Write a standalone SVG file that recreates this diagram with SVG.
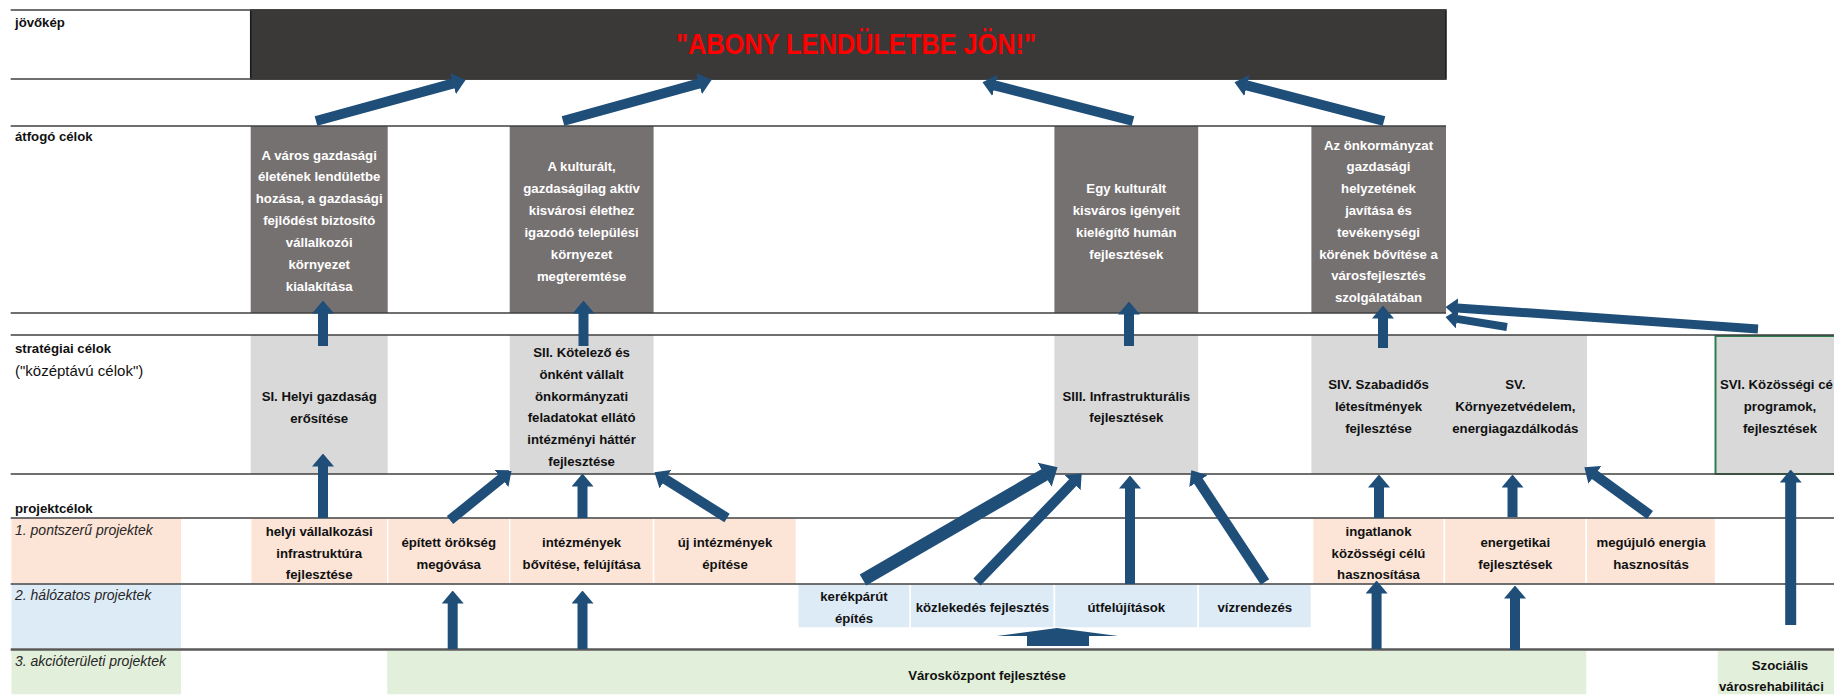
<svg xmlns="http://www.w3.org/2000/svg" width="1834" height="695" viewBox="0 0 1834 695">
<style>
text{font-family:"Liberation Sans",Arial,sans-serif;font-size:13.2px;font-weight:bold;fill:#111;text-anchor:middle}
.lbl{text-anchor:start;fill:#111}
.it{font-style:italic;font-weight:normal;font-size:14px;fill:#262626}
.wt{fill:#fff}
.rule{stroke:#404040;stroke-width:1.5;fill:none}
.dark{fill:#3b3838;stroke:#1a1a1a;stroke-width:1.5}
.goal{fill:#767171}
.strat{fill:#d9d9d9}
.pink{fill:#fce4d6;stroke:#fff;stroke-width:1.5}
.blue{fill:#ddebf7;stroke:#fff;stroke-width:1.5}
.green{fill:#e2efda;stroke:#fff;stroke-width:1.5}
.ar{stroke:#1f4e79;stroke-width:10;fill:none;marker-end:url(#ah)}
</style>
<defs>
<marker id="ah" viewBox="0 0 13 22" markerWidth="13" markerHeight="22" refX="0.5" refY="11" orient="auto" markerUnits="userSpaceOnUse"><path d="M0,0 L13,11 L0,22 Z" fill="#1f4e79"/></marker>
<marker id="ahL" viewBox="0 0 15 28" markerWidth="15" markerHeight="28" refX="0.5" refY="14" orient="auto" markerUnits="userSpaceOnUse"><path d="M0,0 L15,14 L0,28 Z" fill="#1f4e79"/></marker>
<marker id="ahS" viewBox="0 0 12 19" markerWidth="12" markerHeight="19" refX="0.5" refY="9.5" orient="auto" markerUnits="userSpaceOnUse"><path d="M0,0 L12,9.5 L0,19 Z" fill="#1f4e79"/></marker>
</defs>
<rect width="1834" height="695" fill="#fff"/>

<g id="rows">
<rect class="pink" x="10.7" y="518" width="171" height="66"/>
<rect class="blue" x="10.7" y="584" width="171" height="65"/>
<rect class="green" x="10.7" y="649" width="171" height="46"/>
<text class="lbl" x="15" y="27">jövőkép</text>
<text class="lbl" x="15" y="141">átfogó célok</text>
<text class="lbl" x="15" y="353">stratégiai célok</text>
<text class="lbl" x="15" y="375.5" style="font-weight:normal;font-size:15px">("középtávú célok")</text>
<text class="lbl" x="15" y="513">projektcélok</text>
<text class="lbl it" x="15" y="534.5">1. pontszerű projektek</text>
<text class="lbl it" x="15" y="600">2. hálózatos projektek</text>
<text class="lbl it" x="15" y="665.5">3. akcióterületi projektek</text>
</g>

<g id="vision">
<rect class="dark" x="250.7" y="10" width="1195.3" height="69"/>
<text x="856" y="53.5" textLength="360" lengthAdjust="spacingAndGlyphs" style="font-size:29px;fill:#ff0000">"ABONY LENDÜLETBE JÖN!"</text>
</g>

<g id="goal1">
<rect class="goal" x="250.7" y="126" width="137" height="187"/>
<text class="wt" x="319.2" y="159.5">A város gazdasági<tspan x="319.2" dy="21.9">életének lendületbe</tspan><tspan x="319.2" dy="21.9">hozása, a gazdasági</tspan><tspan x="319.2" dy="21.9">fejlődést biztosító</tspan><tspan x="319.2" dy="21.9">vállalkozói</tspan><tspan x="319.2" dy="21.9">környezet</tspan><tspan x="319.2" dy="21.9">kialakítása</tspan></text>
</g>
<g id="goal2">
<rect class="goal" x="509.7" y="126" width="143.9" height="187"/>
<text class="wt" x="581.6" y="171">A kulturált,<tspan x="581.6" dy="21.9">gazdaságilag aktív</tspan><tspan x="581.6" dy="21.9">kisvárosi élethez</tspan><tspan x="581.6" dy="21.9">igazodó települési</tspan><tspan x="581.6" dy="21.9">környezet</tspan><tspan x="581.6" dy="21.9">megteremtése</tspan></text>
</g>
<g id="goal3">
<rect class="goal" x="1054.4" y="126" width="143.8" height="187"/>
<text class="wt" x="1126.3" y="192.8">Egy kulturált<tspan x="1126.3" dy="21.9">kisváros igényeit</tspan><tspan x="1126.3" dy="21.9">kielégítő  humán</tspan><tspan x="1126.3" dy="21.9">fejlesztések</tspan></text>
</g>
<g id="goal4">
<rect class="goal" x="1311.4" y="126" width="134.6" height="187"/>
<text class="wt" x="1378.5" y="149.5">Az önkormányzat<tspan x="1378.5" dy="21.8">gazdasági</tspan><tspan x="1378.5" dy="21.8">helyzetének</tspan><tspan x="1378.5" dy="21.8">javítása és</tspan><tspan x="1378.5" dy="21.8">tevékenységi</tspan><tspan x="1378.5" dy="21.8">körének bővítése a</tspan><tspan x="1378.5" dy="21.8">városfejlesztés</tspan><tspan x="1378.5" dy="21.8">szolgálatában</tspan></text>
</g>

<g id="s1">
<rect class="strat" x="250.7" y="335" width="137" height="139"/>
<text x="319.2" y="401">SI. Helyi gazdaság<tspan x="319.2" dy="21.7">erősítése</tspan></text>
</g>
<g id="s2">
<rect class="strat" x="509.7" y="335" width="143.9" height="139"/>
<text x="581.6" y="357">SII. Kötelező és<tspan x="581.6" dy="21.8">önként vállalt</tspan><tspan x="581.6" dy="21.8">önkormányzati</tspan><tspan x="581.6" dy="21.8">feladatokat ellátó</tspan><tspan x="581.6" dy="21.8">intézményi háttér</tspan><tspan x="581.6" dy="21.8">fejlesztése</tspan></text>
</g>
<g id="s3">
<rect class="strat" x="1054.4" y="335" width="143.8" height="139"/>
<text x="1126.3" y="400.5">SIII. Infrastrukturális<tspan x="1126.3" dy="21.7">fejlesztések</tspan></text>
</g>
<g id="s4s5">
<rect class="strat" x="1311.4" y="335" width="275.6" height="139"/>
<text x="1378.5" y="389">SIV. Szabadidős<tspan x="1378.5" dy="21.8">létesítmények</tspan><tspan x="1378.5" dy="21.8">fejlesztése</tspan></text>
<text x="1515.3" y="389">SV.<tspan x="1515.3" dy="21.8">Környezetvédelem,</tspan><tspan x="1515.3" dy="21.8">energiagazdálkodás</tspan></text>
</g>
<g id="s6">
<rect class="strat" x="1715.5" y="336" width="130" height="138" style="stroke:#2e7d4f;stroke-width:2"/>
<text x="1720" y="389" style="text-anchor:start">SVI. Közösségi cé</text>
<text x="1780" y="410.8">programok,<tspan x="1780" dy="21.8">fejlesztések</tspan></text>
</g>

<g id="p-helyi"><rect class="pink" x="250.7" y="518" width="137" height="66"/>
<text x="319.2" y="536">helyi vállalkozási<tspan x="319.2" dy="21.7">infrastruktúra</tspan><tspan x="319.2" dy="21.7">fejlesztése</tspan></text></g>
<g id="p-epitett"><rect class="pink" x="387.7" y="518" width="122" height="66"/>
<text x="448.7" y="547">épített örökség<tspan x="448.7" dy="21.7">megóvása</tspan></text></g>
<g id="p-intezmenyek"><rect class="pink" x="509.7" y="518" width="143.9" height="66"/>
<text x="581.6" y="547">intézmények<tspan x="581.6" dy="21.7">bővítése, felújítása</tspan></text></g>
<g id="p-uj"><rect class="pink" x="653.6" y="518" width="142.8" height="66"/>
<text x="725" y="547">új intézmények<tspan x="725" dy="21.7">építése</tspan></text></g>
<g id="p-ingatlanok"><rect class="pink" x="1312.6" y="518" width="131.8" height="66"/>
<text x="1378.5" y="536">ingatlanok<tspan x="1378.5" dy="21.7">közösségi célú</tspan><tspan x="1378.5" dy="21.7">hasznosítása</tspan></text></g>
<g id="p-energetikai"><rect class="pink" x="1444.4" y="518" width="141.9" height="66"/>
<text x="1515.3" y="547">energetikai<tspan x="1515.3" dy="21.7">fejlesztések</tspan></text></g>
<g id="p-megujulo"><rect class="pink" x="1586.3" y="518" width="129.2" height="66"/>
<text x="1651" y="547">megújuló energia<tspan x="1651" dy="21.7">hasznosítás</tspan></text></g>

<g id="n-kerekpar"><rect class="blue" x="797.8" y="584" width="112.5" height="44"/>
<text x="854" y="601">kerékpárút<tspan x="854" dy="21.6">építés</tspan></text></g>
<g id="n-kozlekedes"><rect class="blue" x="910.3" y="584" width="144.1" height="44"/>
<text x="982.4" y="612">közlekedés fejlesztés</text></g>
<g id="n-ut"><rect class="blue" x="1054.4" y="584" width="143.8" height="44"/>
<text x="1126.3" y="612">útfelújítások</text></g>
<g id="n-viz"><rect class="blue" x="1198.2" y="584" width="113.2" height="44"/>
<text x="1254.8" y="612">vízrendezés</text></g>

<g id="a-varoskozpont"><rect class="green" x="386.5" y="650" width="1200.5" height="45"/>
<text x="987" y="680">Városközpont fejlesztése</text></g>
<g id="a-szocialis"><rect class="green" x="1717" y="650" width="130" height="45"/>
<text x="1780" y="669.5">Szociális</text>
<text x="1719" y="691" style="text-anchor:start">városrehabilitáci</text></g>

<g id="rules">
<path class="rule" d="M10.7,10H1446M10.7,79H1446M10.7,126H1446M10.7,313H1446M10.7,335H1834M10.7,474H1834M10.7,518H1834M10.7,584H1834"/>
<path d="M10.7,649.5H1834" stroke="#595959" stroke-width="2.5"/>
</g>

<g id="connectors">
<line class="ar" x1="316" y1="121" x2="453.5" y2="83.4"/>
<line class="ar" x1="563" y1="121" x2="699.5" y2="83.4"/>
<line class="ar" x1="1133" y1="121" x2="994.6" y2="85.3"/>
<line class="ar" x1="1384" y1="121" x2="1246.6" y2="85.3"/>
<line class="ar" x1="323" y1="346" x2="323" y2="313"/>
<line class="ar" x1="583.5" y1="346" x2="583.5" y2="313"/>
<line class="ar" x1="1129" y1="346" x2="1129" y2="314"/>
<line class="ar" x1="1383" y1="348" x2="1383" y2="318"/>
<line class="ar" x1="1758" y1="329" x2="1457" y2="307.9" style="stroke-width:9;marker-end:url(#ahS)"/>
<line class="ar" x1="1507" y1="327" x2="1456.8" y2="318.9" style="stroke-width:8;marker-end:url(#ahS)"/>
<line class="ar" x1="323" y1="518" x2="323" y2="466"/>
<line class="ar" x1="450" y1="520" x2="501.9" y2="478.2"/>
<line class="ar" x1="582.5" y1="518" x2="582.5" y2="486"/>
<line class="ar" x1="727" y1="518" x2="665" y2="478.9"/>
<line class="ar" x1="863" y1="580" x2="1045" y2="474.5" style="stroke-width:13;marker-end:url(#ahL)"/>
<line class="ar" x1="977" y1="582" x2="1073" y2="482.4"/>
<line class="ar" x1="1130" y1="584" x2="1130" y2="488"/>
<line class="ar" x1="1265" y1="582" x2="1198.2" y2="480.8"/>
<line class="ar" x1="1379" y1="518" x2="1379" y2="487"/>
<line class="ar" x1="1512.5" y1="517" x2="1512.5" y2="487"/>
<line class="ar" x1="1650" y1="515" x2="1594.5" y2="474.6"/>
<line class="ar" x1="1790.7" y1="625" x2="1790.7" y2="482" style="stroke-width:11"/>
<line class="ar" x1="452.7" y1="649" x2="452.7" y2="603"/>
<line class="ar" x1="582.5" y1="649" x2="582.5" y2="603"/>
<line class="ar" x1="1376.6" y1="649" x2="1376.6" y2="593"/>
<line class="ar" x1="1515" y1="650" x2="1515" y2="598"/>
<polygon points="1027,646 1089,646 1089,636 1118,636 1057,628 997,636 1027,636" fill="#1f4e79"/>
</g>
</svg>
